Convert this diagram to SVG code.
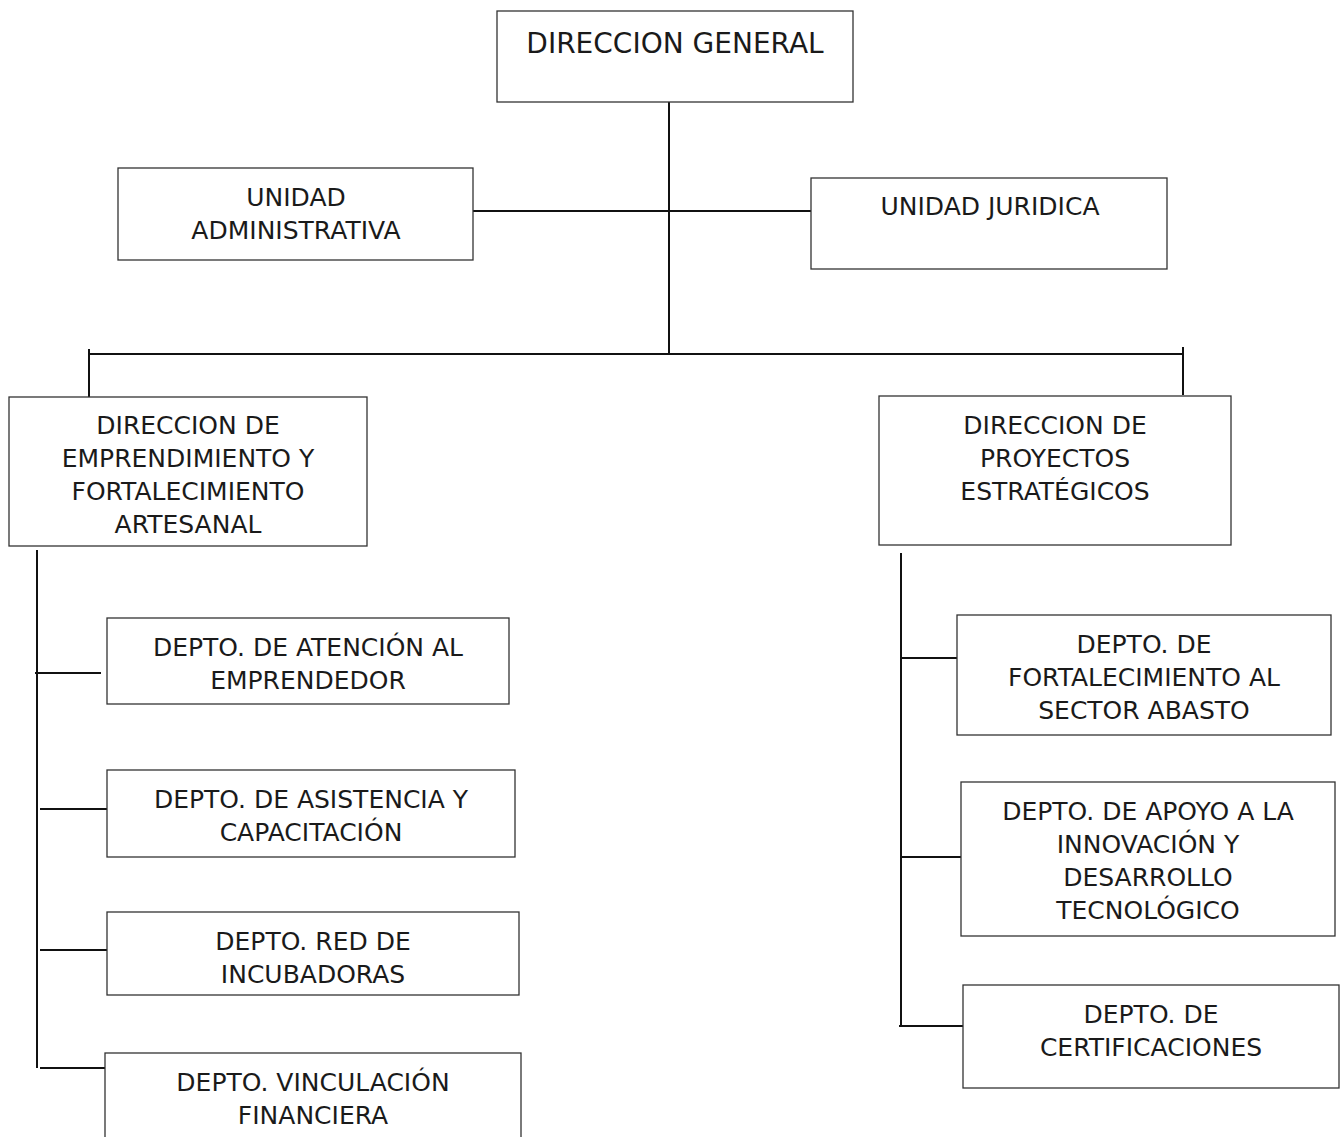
<svg xmlns="http://www.w3.org/2000/svg" width="1344" height="1137" viewBox="0 0 1344 1137">
<style>
.box{fill:#fff;stroke:#333;stroke-width:1.3}
.t{font-family:"DejaVu Sans",sans-serif;font-size:25px;fill:#1a1a1a;text-anchor:middle}
.big{font-size:28px}
.c{stroke:#111;stroke-width:2;fill:none}
</style>
<rect width="1344" height="1137" fill="#fff"/>
<g id="connectors">
<line class="c" x1="669" y1="102" x2="669" y2="354"/>
<line class="c" x1="473" y1="211" x2="811" y2="211"/>
<line class="c" x1="89" y1="354" x2="1183" y2="354"/>
<line class="c" x1="89" y1="349" x2="89" y2="397"/>
<line class="c" x1="1183" y1="347" x2="1183" y2="395"/>
<line class="c" x1="37" y1="550" x2="37" y2="1068"/>
<line class="c" x1="35" y1="673" x2="101" y2="673"/>
<line class="c" x1="40" y1="809" x2="107" y2="809"/>
<line class="c" x1="40" y1="950" x2="107" y2="950"/>
<line class="c" x1="40" y1="1068" x2="105" y2="1068"/>
<line class="c" x1="901" y1="553" x2="901" y2="1026"/>
<line class="c" x1="901" y1="658" x2="957" y2="658"/>
<line class="c" x1="901" y1="857" x2="966" y2="857"/>
<line class="c" x1="899" y1="1026" x2="963" y2="1026"/>
</g>
<g id="direccion-general"><rect class="box" x="497" y="11" width="356" height="91"/><text class="t big" x="675" y="53">DIRECCION GENERAL</text></g>
<g id="unidad-administrativa"><rect class="box" x="118" y="168" width="355" height="92"/><text class="t" x="296" y="206">UNIDAD</text><text class="t" x="296" y="239">ADMINISTRATIVA</text></g>
<g id="unidad-juridica"><rect class="box" x="811" y="178" width="356" height="91"/><text class="t" x="990" y="215">UNIDAD JURIDICA</text></g>
<g id="direccion-emprendimiento"><rect class="box" x="9" y="397" width="358" height="149"/><text class="t" x="188" y="434">DIRECCION DE</text><text class="t" x="188" y="467">EMPRENDIMIENTO Y</text><text class="t" x="188" y="500">FORTALECIMIENTO</text><text class="t" x="188" y="533">ARTESANAL</text></g>
<g id="direccion-proyectos"><rect class="box" x="879" y="396" width="352" height="149"/><text class="t" x="1055" y="434">DIRECCION DE</text><text class="t" x="1055" y="467">PROYECTOS</text><text class="t" x="1055" y="500">ESTRATÉGICOS</text></g>
<g id="depto-atencion"><rect class="box" x="107" y="618" width="402" height="86"/><text class="t" x="308" y="656">DEPTO. DE ATENCIÓN AL</text><text class="t" x="308" y="689">EMPRENDEDOR</text></g>
<g id="depto-asistencia"><rect class="box" x="107" y="770" width="408" height="87"/><text class="t" x="311" y="808">DEPTO. DE ASISTENCIA Y</text><text class="t" x="311" y="841">CAPACITACIÓN</text></g>
<g id="depto-incubadoras"><rect class="box" x="107" y="912" width="412" height="83"/><text class="t" x="313" y="950">DEPTO. RED DE</text><text class="t" x="313" y="983">INCUBADORAS</text></g>
<g id="depto-vinculacion"><rect class="box" x="105" y="1053" width="416" height="100"/><text class="t" x="313" y="1091">DEPTO. VINCULACIÓN</text><text class="t" x="313" y="1124">FINANCIERA</text></g>
<g id="depto-abasto"><rect class="box" x="957" y="615" width="374" height="120"/><text class="t" x="1144" y="653">DEPTO. DE</text><text class="t" x="1144" y="686">FORTALECIMIENTO AL</text><text class="t" x="1144" y="719">SECTOR ABASTO</text></g>
<g id="depto-innovacion"><rect class="box" x="961" y="782" width="374" height="154"/><text class="t" x="1148" y="820">DEPTO. DE APOYO A LA</text><text class="t" x="1148" y="853">INNOVACIÓN Y</text><text class="t" x="1148" y="886">DESARROLLO</text><text class="t" x="1148" y="919">TECNOLÓGICO</text></g>
<g id="depto-certificaciones"><rect class="box" x="963" y="985" width="376" height="103"/><text class="t" x="1151" y="1023">DEPTO. DE</text><text class="t" x="1151" y="1056">CERTIFICACIONES</text></g>
</svg>
